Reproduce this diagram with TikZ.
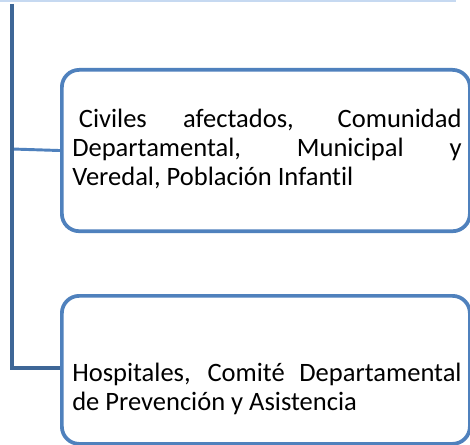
\documentclass[tikz,border=0pt]{standalone}
\usepackage{fontspec}
\setmainfont{Carlito}[Ligatures=NoCommon]
\definecolor{boxblue}{HTML}{4F81BD}
\definecolor{trunkblue}{HTML}{3E6797}
\definecolor{topline}{HTML}{C6D9F1}
\begin{document}
\begin{tikzpicture}[x=0.75pt,y=-0.75pt,
  boxstyle/.style={draw=boxblue,line width=2.8pt,rounded corners=13pt,fill=white,inner sep=0pt},
  txtstyle/.style={inner sep=0pt,anchor=west,text width=292pt,align=justify,font=\fontsize{19.9pt}{21.8pt}\selectfont},
  trunk/.style={draw=trunkblue,line width=3pt},
  branch/.style={draw=boxblue,line width=2.2pt}]
\useasboundingbox (0,0) rectangle (470,445);
\fill[white] (0,0) rectangle (470,445);
\coordinate (tl) at (0,1);
\coordinate (tr) at (456,1);
\draw[topline,line width=1.5pt] (tl) -- (tr);
\node[boxstyle,minimum width=306pt,minimum height=121pt,anchor=north west] (b1) at (60,68) {};
\node[boxstyle,minimum width=306pt,minimum height=111pt,anchor=north west] (b2) at (60,294) {};
\node[txtstyle] (t1) at (72,149) {\hspace*{0.25em}Civiles afectados, Comunidad\linebreak Departamental, Municipal y\linebreak Veredal, Población Infantil};
\node[txtstyle] (t2) at (72,389) {Hospitales, Comité Departamental\linebreak de Prevención y Asistencia};
\coordinate (top) at (12,4);
\coordinate (j1) at (12,149);
\coordinate (j2) at (12,368);
\draw[branch] (j1) -- (b1.west);
\draw[trunk,line join=miter] (top) -- (j2) -- (b2.west |- j2);
\end{tikzpicture}
\end{document}
